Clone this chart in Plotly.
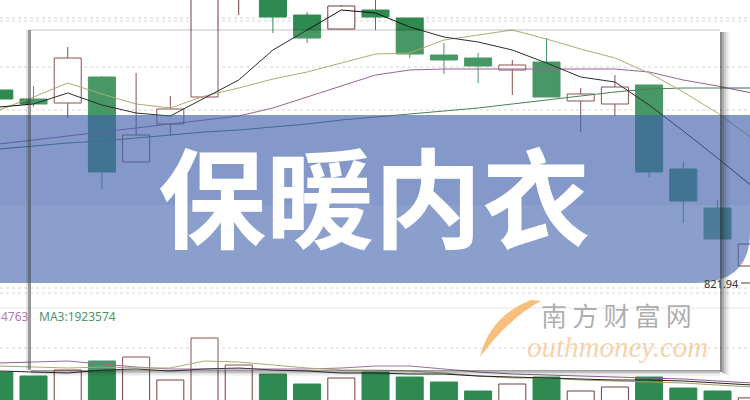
import plotly.graph_objects as go

W, H = 750, 400

# ---------------- data ----------------
idx = list(range(23))
opens = [937.94, 932.54, 930.14, 945.74, 894.74, 917.54, 933.74, 994.94, 997.94, 982.94,
         974.54, 985.94, 981.14, 958.94, 957.14, 949.94, 954.74, 931.34, 929.54, 940.94,
         890.54, 867.14, 832.34]
highs = [940.34, 940.34, 963.74, 946.34, 948.14, 934.34, 1009.94, 1027.94, 1000.94, 984.74,
         988.94, 993.14, 981.14, 966.14, 960.14, 955.94, 969.14, 939.14, 946.94, 940.94,
         894.74, 871.94, 847.94]
lows = [929.54, 927.74, 921.14, 878.54, 894.14, 910.34, 933.74, 982.94, 972.14, 966.14,
        974.54, 973.94, 957.14, 947.54, 942.14, 934.94, 933.74, 912.74, 922.34, 885.74,
        858.14, 847.94, 821.94]
closes = [932.54, 929.54, 957.14, 888.74, 910.94, 926.54, 1003.94, 1021.94, 981.74, 969.14,
          988.34, 981.74, 959.54, 955.94, 952.34, 952.94, 933.74, 935.54, 939.74, 888.74,
          871.34, 848.54, 845.54]

ma5 = [927.74, 929.54, 936.14, 928.94, 924.14, 922.34, 933.14, 943.94, 961.94, 973.94,
       985.94, 984.14, 975.74, 969.74, 966.74, 961.94, 954.14, 945.74, 942.74, 928.94,
       913.34, 897.14, 880.34]
ma10 = [925.94, 933.74, 942.14, 935.54, 929.54, 927.14, 934.34, 939.14, 944.54, 948.74,
        954.14, 959.54, 960.14, 967.94, 970.94, 973.94, 968.54, 962.54, 957.14, 948.14,
        936.74, 924.14, 909.14]
ma20 = [905.54, 907.94, 910.34, 912.74, 915.14, 917.54, 919.94, 922.34, 927.14, 933.74,
        940.34, 946.94, 949.94, 950.54, 950.54, 950.54, 950.54, 950.54, 950.54, 948.74,
        943.94, 940.34, 936.14]
ma30 = [902.54, 904.34, 906.14, 907.34, 909.14, 910.94, 912.74, 913.94, 915.74, 917.54,
        919.94, 921.74, 923.54, 925.34, 927.14, 929.54, 931.94, 934.34, 936.74, 938.54,
        939.14, 939.14, 939.14]

volumes = [4130600, 3695800, 4348000, 5326300, 5761100, 3261000, 7826400, 4891500, 3913200,
           2826200, 3478400, 4130600, 3587100, 3043600, 2065300, 2826200, 3587100, 2065300,
           2500100, 3587100, 2391400, 2065300, 1314022]
vol_ma_a = [5108900, 5217600, 5326300, 5000200, 4674100, 4456700, 4456700, 4456700, 4456700,
            4456700, 4565400, 4782800, 4782800, 4456700, 4130600, 3913200, 3804500, 3695800,
            3587100, 3478400, 3369700, 3152300, 2934900]
vol_ma_b = [4782800, 4674100, 4565400, 4674100, 4565400, 4565400, 5326300, 5217600, 4891500,
            4565400, 4348000, 4348000, 4239300, 4021900, 3695800, 3478400, 3478400, 3261000,
            3152300, 3043600, 2934900, 2717500, 2500100]
vol_ma_c = [4239300, 4130600, 4021900, 4348000, 4456700, 4239300, 4456700, 4565400, 4348000,
            4239300, 4021900, 4021900, 3913200, 3913200, 3695800, 3587100, 3478400, 3369700,
            3261000, 3261000, 3152300, 2934900, 2717500]

title_text = "保暖内衣"
low_label = "821.94"
vol_label_left = "4763"
vol_label_ma3 = "MA3:1923574"
wm_cn = "南\u2009方\u2009财\u2009富\u2009网"
wm_en = "outhmoney.com"

# ---------------- styling ----------------
UP = "#7a3a3a"
DOWN = "#2e8a50"
BODY_W = 0.79

fig = go.Figure()

is_up = [c >= o for o, c in zip(opens, closes)]
fills = ["white" if u else DOWN for u in is_up]
edges = [UP if u else DOWN for u in is_up]

# volume bars (secondary axis)
fig.add_trace(go.Bar(x=idx, y=volumes, yaxis="y2", width=BODY_W,
                     marker=dict(color=fills, line=dict(color=edges, width=1)),
                     hoverinfo="skip"))
for vals, col in [(vol_ma_a, "#8d5a8d"), (vol_ma_b, "#a0a060"), (vol_ma_c, "#222222")]:
    fig.add_trace(go.Scatter(x=idx, y=vals, yaxis="y2", mode="lines",
                             line=dict(color=col, width=1), hoverinfo="skip"))

# candle bodies
body_base = [min(o, c) for o, c in zip(opens, closes)]
body_len = [max(abs(c - o), 0.3) for o, c in zip(opens, closes)]
fig.add_trace(go.Bar(x=idx, y=body_len, base=body_base, width=BODY_W,
                     marker=dict(color=fills, line=dict(color=edges, width=1)),
                     hoverinfo="skip"))

# candle wicks (upper and lower parts, per colour)
for up_flag, col in [(True, UP), (False, DOWN)]:
    wx, wy = [], []
    for i in idx:
        if is_up[i] != up_flag:
            continue
        top = max(opens[i], closes[i])
        bot = min(opens[i], closes[i])
        if highs[i] > top:
            wx += [i, i, None]
            wy += [highs[i], top, None]
        if lows[i] < bot:
            wx += [i, i, None]
            wy += [bot, lows[i], None]
    fig.add_trace(go.Scatter(x=wx, y=wy, mode="lines", line=dict(color=col, width=1),
                             hoverinfo="skip"))

for vals, col in [(ma30, "#2f6e45"), (ma20, "#8a4f8a"), (ma10, "#a3a063"), (ma5, "#111111")]:
    fig.add_trace(go.Scatter(x=idx, y=vals, mode="lines",
                             line=dict(color=col, width=1), hoverinfo="skip"))


def P(x, y):
    return f"{x / W:.5f},{1 - y / H:.5f}"


shapes = []
for gy in [18, 21, 67, 110, 288, 293, 348]:
    shapes.append(dict(type="line", xref="paper", yref="paper", x0=0, x1=1,
                       y0=1 - gy / H, y1=1 - gy / H, layer="below",
                       line=dict(color="#d2d2d2", width=1, dash="dot")))
shapes.append(dict(type="line", xref="paper", yref="paper", x0=0, x1=1,
                   y0=1 - 308 / H, y1=1 - 308 / H, layer="below",
                   line=dict(color="#e6e6e6", width=1)))


def rect(x0, y0, x1, y1, color):
    return dict(type="rect", xref="paper", yref="paper", x0=x0 / W, x1=x1 / W,
                y0=1 - y1 / H, y1=1 - y0 / H, layer="above",
                fillcolor=color, line=dict(width=0))


shapes.append(rect(30, 30, 720, 370, "rgba(255,255,255,0.12)"))
band = f"M {P(0,115)} L {P(750,115)} L {P(750,232)} Q {P(750,283)} {P(695,283)} L {P(0,283)} Z"
shapes.append(dict(type="path", path=band, xref="paper", yref="paper", layer="above",
                   fillcolor="rgba(62,96,172,0.64)", line=dict(width=0)))
band2 = f"M {P(0,205)} L {P(750,205)} L {P(750,232)} Q {P(750,283)} {P(695,283)} L {P(0,283)} Z"
shapes.append(dict(type="path", path=band2, xref="paper", yref="paper", layer="above",
                   fillcolor="rgba(255,255,255,0.06)", line=dict(width=0)))
shapes.append(rect(26, 30, 28, 370, "rgba(0,0,0,0.10)"))
shapes.append(rect(28, 30, 31, 370, "rgba(70,70,70,0.55)"))
shapes.append(rect(30, 29, 720, 31, "rgba(0,0,0,0.12)"))
for k, a in enumerate([0.55, 0.38, 0.24, 0.12, 0.05]):
    shapes.append(rect(720 + 2 * k, 32, 722 + 2 * k, 372 + k, f"rgba(40,40,40,{a})"))
for k, a in enumerate([0.45, 0.28, 0.14, 0.05]):
    shapes.append(rect(31, 370 + 1.5 * k, 720, 371.5 + 1.5 * k, f"rgba(40,40,40,{a})"))
shapes.append(dict(type="line", xref="paper", yref="paper", x0=741 / W, x1=752 / W,
                   y0=1 - 283 / H, y1=1 - 283 / H, layer="above",
                   line=dict(color="#444444", width=1)))
s_path = (f"M {P(480,357)} Q {P(490,316)} {P(531,300)} L {P(541,301)} "
          f"Q {P(509,318)} {P(480,357)} Z")
shapes.append(dict(type="path", path=s_path, xref="paper", yref="paper", layer="above",
                   fillcolor="rgba(246,168,80,0.75)", line=dict(width=0)))

annotations = [
    dict(text=title_text, x=374 / W, y=1 - 193 / H, xref="paper", yref="paper",
         showarrow=False, xanchor="center", yanchor="middle",
         font=dict(family="Noto Sans CJK SC", size=108, color="white", weight="bold")),
    dict(text=wm_cn, x=616 / W, y=1 - 314 / H, xref="paper", yref="paper",
         showarrow=False, xanchor="center", yanchor="middle",
         font=dict(family="Noto Sans CJK SC", size=26, color="rgba(140,140,140,0.7)")),
    dict(text=f"<i>{wm_en}</i>", x=617 / W, y=1 - 347 / H, xref="paper", yref="paper",
         showarrow=False, xanchor="center", yanchor="middle",
         font=dict(family="Liberation Serif", size=29, color="rgba(242,190,140,0.7)")),
    dict(text=vol_label_left, x=-1 / W, y=1 - 316 / H, xref="paper", yref="paper",
         showarrow=False, xanchor="left", yanchor="middle",
         font=dict(family="Noto Sans", size=12, color="#b27ab2")),
    dict(text=vol_label_ma3, x=37 / W, y=1 - 316 / H, xref="paper", yref="paper",
         showarrow=False, xanchor="left", yanchor="middle",
         font=dict(family="Noto Sans", size=12, color="#4f9468")),
    dict(text=low_label, x=741 / W, y=1 - 283 / H, xref="paper", yref="paper",
         showarrow=False, xanchor="right", yanchor="middle",
         font=dict(family="Noto Sans", size=11, color="#333333")),
]

fig.update_layout(
    width=W, height=H, margin=dict(l=0, r=0, t=0, b=0),
    paper_bgcolor="white", plot_bgcolor="white", showlegend=False,
    barmode="overlay",
    xaxis=dict(range=[0.02, 21.95], visible=False, fixedrange=True),
    yaxis=dict(range=[751.94, 991.94], visible=False, domain=[0, 1], fixedrange=True),
    yaxis2=dict(range=[1.087e6, 4.457e7], visible=False, overlaying="y", fixedrange=True),
    shapes=shapes, annotations=annotations,
)

fig.write_html("out.html", config={"displayModeBar": False},
               post_script="document.body.style.margin='0';document.body.style.overflow='hidden';")
